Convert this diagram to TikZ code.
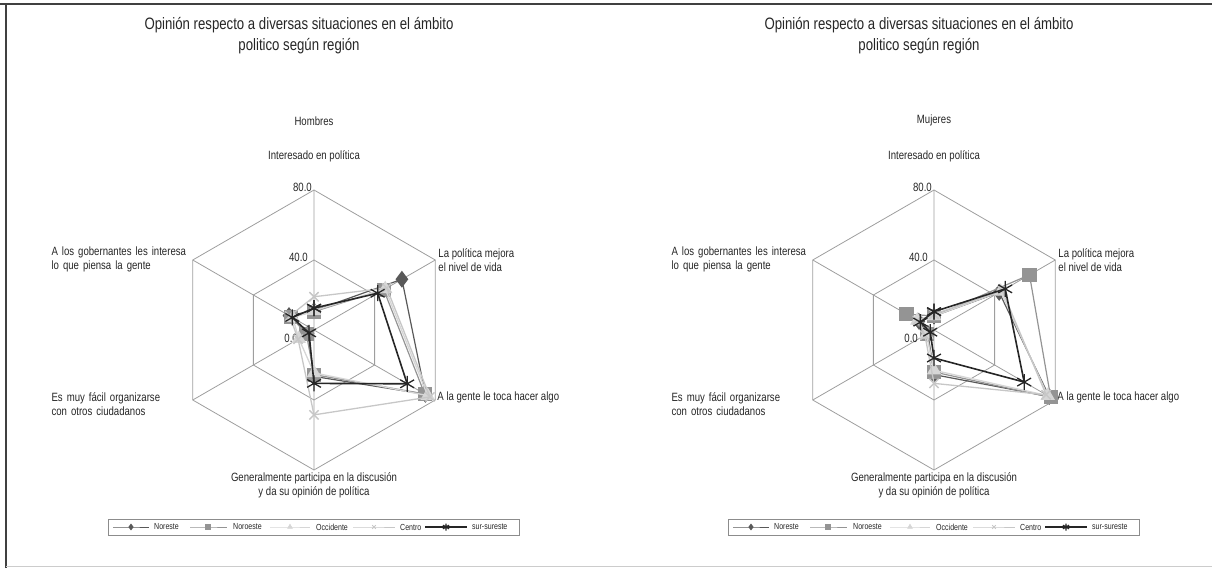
\documentclass[tikz,border=0pt]{standalone}
\usepackage{fontspec}
\setmainfont{Liberation Sans}[FakeStretch=0.8]
\usetikzlibrary{positioning}
\usetikzlibrary{plotmarks}

\begin{document}
\begin{tikzpicture}[x=1pt, y=1pt,
        title_style/.style={align=center, inner sep=0pt, text=black!85, font=\fontsize{16.5}{21}\selectfont},
        label_style/.style={inner sep=1pt, text=black!85, font=\fontsize{12}{14}\selectfont},
        side_label_style/.style={inner sep=1pt, text width=139pt, align=left, text=black!85, font=\fontsize{12}{14}\selectfont},
        tick_style/.style={inner sep=0pt, anchor=east, text=black!85, font=\fontsize{12}{14}\selectfont},
        legend_style/.style={inner sep=0pt, anchor=west, text=black!85, font=\fontsize{8.8}{10}\selectfont},
        legend_box_style/.style={draw=black!45, line width=0.7pt},
        grid_style/.style={draw=black!38, line width=0.8pt},
        noreste_style/.style={draw=black!65, line width=1.2pt, mark=diamond*, mark size=7.5pt, mark options={solid, fill=black!65, draw=black!65}},
        noroeste_style/.style={draw=black!42, line width=1.2pt, mark=square*, mark size=6.5pt, mark options={solid, fill=black!42, draw=black!42}},
        occidente_style/.style={draw=black!16, line width=1.3pt, mark=triangle*, mark size=7pt, mark options={solid, fill=black!16, draw=black!16}},
        centro_style/.style={draw=black!22, line width=1.3pt, mark=x, mark size=6.5pt, mark options={solid, draw=black!22, line width=1.4pt}},
        sur_style/.style={draw=black!85, line width=1.6pt, mark=asterisk, mark size=8pt, mark options={solid, draw=black!85, line width=1.3pt}}]

        \useasboundingbox (0,0) rectangle (1212,568);

        % marco
        \draw[black!75, line width=2pt] (0,564) -- (1212,564);
        \draw[black!75, line width=2pt] (6,0) -- (6,565);
        \draw[black!20, line width=1pt] (6,1.5) -- (1212,1.5);

        % ---- Hombres ----
        \node[title_style] (hTitulo) at (299,532) {Opinión respecto a diversas situaciones en el ámbito\\politico según región};

        \begin{scope}[shift={(314,238)}, x=1.75pt, y=1.75pt]
        \draw[grid_style] (90:40) -- (30:40) -- (-30:40) -- (-90:40) -- (-150:40) -- (150:40) -- cycle;
        \draw[grid_style] (90:80) -- (30:80) -- (-30:80) -- (-90:80) -- (-150:80) -- (150:80) -- cycle;
        \draw[grid_style] (90:80) -- (-90:80) (30:80) -- (-150:80) (150:80) -- (-30:80);

        \coordinate (hC) at (0,0);
        \coordinate (hInt) at (90:80);
        \coordinate (hPol) at (30:80);
        \coordinate (hGen) at (-30:80);
        \coordinate (hPar) at (-90:80);
        \coordinate (hOrg) at (-150:80);
        \coordinate (hGob) at (150:80);

        \node[tick_style, xshift=-2pt, yshift=3pt] (h80) at (hInt) {80.0};
        \node[tick_style, xshift=-6pt, yshift=3pt] (h40) at (90:40) {40.0};
        \node[tick_style, xshift=-16pt, yshift=-8pt] (h0) at (hC) {0.0};

        \node[label_style, above=27pt of hInt] (hIntT) {Interesado en política};
        \node[label_style, above=22pt of hIntT] (hSexo) {Hombres};
        \node[label_style, align=left, right=2pt of hPol] (hPolT) {La política mejora\\el nivel de vida};
        \node[label_style, right=1pt of hGen, yshift=3pt] (hGenT) {A la gente le toca hacer algo};
        \node[label_style, align=center, below=1pt of hPar] (hParT) {Generalmente participa en la discusión\\y da su opinión de política};
        \node[side_label_style, left=1pt of hOrg, yshift=-4pt] (hOrgT) {Es muy fácil organizarse\\con otros ciudadanos};
        \node[side_label_style, left=1pt of hGob, yshift=1pt] (hGobT) {A los gobernantes les interesa\\lo que piensa la gente};

        \draw[noreste_style] plot coordinates {(90:11) (30:58) (-30:73.5) (-90:26.5) (-150:4) (150:16.5) (90:11)};
        \draw[noroeste_style] plot coordinates {(90:10.5) (30:46) (-30:73) (-90:25.5) (-150:5) (150:15) (90:10.5)};
        \draw[occidente_style] plot coordinates {(90:11) (30:47) (-30:75) (-90:24.5) (-150:10) (150:14) (90:11)};
        \draw[centro_style] plot coordinates {(90:19) (30:48) (-30:76.5) (-90:48.5) (-150:10.5) (150:16) (90:19)};
        \draw[sur_style] plot coordinates {(90:12.5) (30:42) (-30:61.5) (-90:30.5) (-150:3.3) (150:14.3) (90:12.5)};
        \end{scope}

        \draw[legend_box_style] (108,33) rectangle (519,49);
        \draw[noreste_style, line width=0.8pt, mark size=2.8pt, mark indices={2}] plot coordinates {(113,41) (131,41) (149,41)};
        \node[legend_style] (hNoreste) at (154,41) {Noreste};
        \draw[noroeste_style, line width=0.8pt, mark size=2.3pt, mark indices={2}] plot coordinates {(190,41) (208,41) (227,41)};
        \node[legend_style] (hNoroeste) at (233,41) {Noroeste};
        \draw[occidente_style, line width=0.8pt, mark size=2.6pt, mark indices={2}] plot coordinates {(270,41) (290,41) (310,41)};
        \node[legend_style] (hOccidente) at (316,41) {Occidente};
        \draw[centro_style, line width=0.8pt, mark size=2.6pt, mark options={line width=0.8pt}, mark indices={2}] plot coordinates {(353,41) (374,41) (395,41)};
        \node[legend_style] (hCentro) at (400,41) {Centro};
        \draw[sur_style, line width=1.2pt, mark size=3.5pt, mark indices={2}] plot coordinates {(425,41) (446,41) (467,41)};
        \node[legend_style] (hSur) at (472,41) {sur-sureste};

        % ---- Mujeres ----
        \node[title_style] (mTitulo) at (919,532) {Opinión respecto a diversas situaciones en el ámbito\\politico según región};

        \begin{scope}[shift={(934,238)}, x=1.75pt, y=1.75pt]
        \draw[grid_style] (90:40) -- (30:40) -- (-30:40) -- (-90:40) -- (-150:40) -- (150:40) -- cycle;
        \draw[grid_style] (90:80) -- (30:80) -- (-30:80) -- (-90:80) -- (-150:80) -- (150:80) -- cycle;
        \draw[grid_style] (90:80) -- (-90:80) (30:80) -- (-150:80) (150:80) -- (-30:80);

        \coordinate (mC) at (0,0);
        \coordinate (mInt) at (90:80);
        \coordinate (mPol) at (30:80);
        \coordinate (mGen) at (-30:80);
        \coordinate (mPar) at (-90:80);
        \coordinate (mOrg) at (-150:80);
        \coordinate (mGob) at (150:80);

        \node[tick_style, xshift=-2pt, yshift=3pt] (m80) at (mInt) {80.0};
        \node[tick_style, xshift=-6pt, yshift=3pt] (m40) at (90:40) {40.0};
        \node[tick_style, xshift=-16pt, yshift=-8pt] (m0) at (mC) {0.0};

        \node[label_style, above=27pt of mInt] (mIntT) {Interesado en política};
        \node[label_style, above=22pt of mIntT] (mSexo) {Mujeres};
        \node[label_style, align=left, right=2pt of mPol] (mPolT) {La política mejora\\el nivel de vida};
        \node[label_style, right=1pt of mGen, yshift=3pt] (mGenT) {A la gente le toca hacer algo};
        \node[label_style, align=center, below=1pt of mPar] (mParT) {Generalmente participa en la discusión\\y da su opinión de política};
        \node[side_label_style, left=1pt of mOrg, yshift=-4pt] (mOrgT) {Es muy fácil organizarse\\con otros ciudadanos};
        \node[side_label_style, left=1pt of mGob, yshift=1pt] (mGobT) {A los gobernantes les interesa\\lo que piensa la gente};

        \draw[noreste_style] plot coordinates {(90:8) (30:43) (-30:76) (-90:25.5) (-150:4) (150:10) (90:8)};
        \draw[noroeste_style] plot coordinates {(90:8) (30:63) (-30:77) (-90:24) (-150:4.5) (150:18.2) (90:8)};
        \draw[occidente_style] plot coordinates {(90:8) (30:44) (-30:75) (-90:23) (-150:5) (150:11) (90:8)};
        \draw[centro_style] plot coordinates {(90:9) (30:45) (-30:74) (-90:30.5) (-150:6) (150:11) (90:9)};
        \draw[sur_style] plot coordinates {(90:10.5) (30:47) (-30:59.5) (-90:16) (-150:2.5) (150:9) (90:10.5)};
        \end{scope}

        \draw[legend_box_style] (728,33) rectangle (1139,49);
        \draw[noreste_style, line width=0.8pt, mark size=2.8pt, mark indices={2}] plot coordinates {(733,41) (751,41) (769,41)};
        \node[legend_style] (mNoreste) at (774,41) {Noreste};
        \draw[noroeste_style, line width=0.8pt, mark size=2.3pt, mark indices={2}] plot coordinates {(810,41) (828,41) (847,41)};
        \node[legend_style] (mNoroeste) at (853,41) {Noroeste};
        \draw[occidente_style, line width=0.8pt, mark size=2.6pt, mark indices={2}] plot coordinates {(890,41) (910,41) (930,41)};
        \node[legend_style] (mOccidente) at (936,41) {Occidente};
        \draw[centro_style, line width=0.8pt, mark size=2.6pt, mark options={line width=0.8pt}, mark indices={2}] plot coordinates {(973,41) (994,41) (1015,41)};
        \node[legend_style] (mCentro) at (1020,41) {Centro};
        \draw[sur_style, line width=1.2pt, mark size=3.5pt, mark indices={2}] plot coordinates {(1045,41) (1066,41) (1087,41)};
        \node[legend_style] (mSur) at (1092,41) {sur-sureste};

        \end{tikzpicture}
\end{document}
